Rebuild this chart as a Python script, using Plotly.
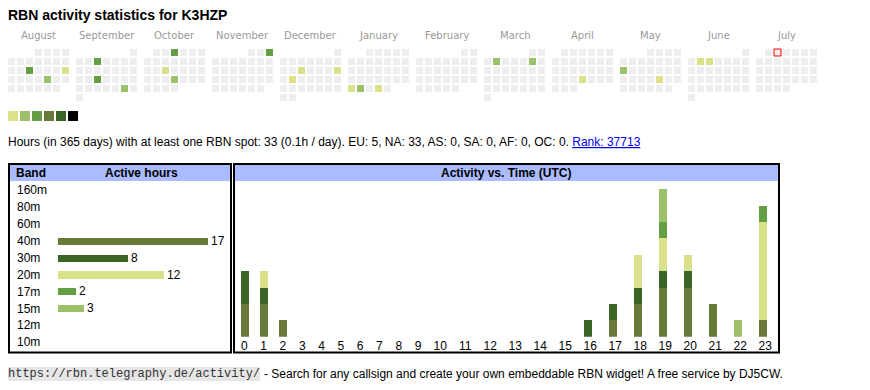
import datetime as dt
import plotly.graph_objects as go

PAGE_W, PAGE_H = 870, 390
OFF = 8                      # default page margin around the plot div
W, H = PAGE_W - OFF, PAGE_H - OFF

# ---------------- data ----------------
callsign = "K3HZP"
month_names = ["August", "September", "October", "November", "December", "January",
               "February", "March", "April", "May", "June", "July"]
first_month = (2024, 8)
today = "2025-07-02"

active_dates = ["2024-08-14", "2024-08-18", "2024-08-23",
                "2024-09-04", "2024-09-18", "2024-09-28",
                "2024-10-03", "2024-10-16", "2024-10-24",
                "2024-11-03",
                "2024-12-11", "2024-12-15", "2024-12-17",
                "2025-01-27", "2025-01-28", "2025-01-30",
                "2025-03-04", "2025-03-08",
                "2025-04-24",
                "2025-05-12", "2025-05-23",
                "2025-06-03", "2025-06-04"]
active_levels = [3, 1, 2,
                 3, 3, 2,
                 3, 1, 2,
                 3,
                 1, 1, 1,
                 1, 2, 1,
                 2, 2,
                 1,
                 2, 1,
                 1, 1]

palette = ["#dbe18a", "#9dc16b", "#659f45", "#677a3a", "#3b6526", "#000000"]
empty_color = "#eeeeee"

bands = ["160m", "80m", "60m", "40m", "30m", "20m", "17m", "15m", "12m", "10m"]
band_hours = [0, 0, 0, 17, 8, 12, 2, 3, 0, 0]
band_colors = ["#000000", "#000000", "#000000", palette[3], palette[4], palette[0],
               palette[2], palette[1], "#000000", "#000000"]

hours = list(range(24))
#            0  1  2  3  4  5  6  7  8  9 10 11 12 13 14 15 16 17 18 19 20 21 22 23
h_40m = [2, 2, 1, 0, 0, 0, 0, 0, 0, 0, 0, 0, 0, 0, 0, 0, 0, 1, 2, 3, 3, 2, 0, 1]
h_30m = [2, 1, 0, 0, 0, 0, 0, 0, 0, 0, 0, 0, 0, 0, 0, 0, 1, 1, 1, 1, 1, 0, 0, 0]
h_20m = [0, 1, 0, 0, 0, 0, 0, 0, 0, 0, 0, 0, 0, 0, 0, 0, 0, 0, 2, 2, 1, 0, 0, 6]
h_17m = [0, 0, 0, 0, 0, 0, 0, 0, 0, 0, 0, 0, 0, 0, 0, 0, 0, 0, 0, 1, 0, 0, 0, 1]
h_15m = [0, 0, 0, 0, 0, 0, 0, 0, 0, 0, 0, 0, 0, 0, 0, 0, 0, 0, 0, 2, 0, 0, 1, 0]
hour_series = [("40m", h_40m, palette[3]), ("30m", h_30m, palette[4]),
               ("20m", h_20m, palette[0]), ("17m", h_17m, palette[2]),
               ("15m", h_15m, palette[1])]

total_hours = 33
per_day = "0.1h"
continents = [("EU", 5), ("NA", 33), ("AS", 0), ("SA", 0), ("AF", 0), ("OC", 0)]
rank = 37713

FONT = "Liberation Sans, Arial, sans-serif"


def px(x):
    """page x pixel -> paper fraction"""
    return (x - OFF) / W


def py(y):
    """page y pixel -> paper fraction"""
    return 1 - (y - OFF) / H


fig = go.Figure()

# ---------------- calendar ----------------
CAL_X0, CAL_Y0, CELL, MONTH_PITCH = 8, 49, 9, 68
level_of = dict(zip(active_dates, active_levels))
cx, cy, cc = [], [], []
today_x = today_y = None
for m in range(12):
    y0 = first_month[0] + (first_month[1] - 1 + m) // 12
    mo = (first_month[1] - 1 + m) % 12 + 1
    first = dt.date(y0, mo, 1)
    nxt = dt.date(y0 + (mo // 12), mo % 12 + 1, 1)
    ndays = (nxt - first).days
    for d in range(1, ndays + 1):
        day = dt.date(y0, mo, d)
        col = day.weekday()
        row = (d - 1 + first.weekday()) // 7
        x = CAL_X0 + 3.5 + m * MONTH_PITCH + col * CELL
        y = CAL_Y0 + 3.5 + row * CELL
        key = day.isoformat()
        cx.append(x)
        cy.append(y)
        lv = level_of.get(key)
        cc.append(palette[lv - 1] if lv else empty_color)
        if key == today:
            today_x, today_y = x, y
    fig.add_annotation(x=CAL_X0 + m * MONTH_PITCH + 30.5, y=35.5, xref="x", yref="y",
                       text=month_names[m], showarrow=False,
                       font=dict(family="DejaVu Sans, Verdana", size=10, color="#999999"),
                       xanchor="center", yanchor="middle")

fig.add_trace(go.Scatter(x=cx, y=cy, mode="markers", hoverinfo="skip",
                         marker=dict(symbol="square", size=7, color=cc, line=dict(width=0)),
                         xaxis="x", yaxis="y", showlegend=False))
fig.add_trace(go.Scatter(x=[today_x], y=[today_y], mode="markers", hoverinfo="skip",
                         marker=dict(symbol="square", size=7, color=empty_color,
                                     line=dict(width=1, color="#ff0000")),
                         xaxis="x", yaxis="y", showlegend=False))
# level legend squares
fig.add_trace(go.Scatter(x=[13 + 12 * i for i in range(len(palette))], y=[116] * len(palette),
                         mode="markers", hoverinfo="skip",
                         marker=dict(symbol="square", size=10, color=palette, line=dict(width=0)),
                         xaxis="x", yaxis="y", showlegend=False))

# ---------------- band table ----------------
BAND_PX_PER_H = 8.8
X2_LEFT, X2_ZERO, X2_RIGHT = 14, 58, 230
fig.add_trace(go.Bar(y=bands, x=band_hours, orientation="h",
                     marker=dict(color=band_colors, line=dict(width=0)),
                     width=0.42,
                     text=[str(v) if v else "" for v in band_hours],
                     textposition="outside", cliponaxis=False, constraintext="none",
                     textfont=dict(family=FONT, size=12, color="#000000"),
                     hoverinfo="skip", xaxis="x2", yaxis="y2", showlegend=False))

# ---------------- hourly chart ----------------
X3_LEFT, X3_RIGHT = 234, 778
col_w = [13.6 + 5.7 * len(str(h)) for h in hours]
lefts = []
acc = 0.7
for w in col_w:
    lefts.append(acc)
    acc += w
bar_x = [l + 10 for l in lefts]
tick_x = [l + w / 2 for l, w in zip(lefts, col_w)]
for name, vals, color in hour_series:
    fig.add_trace(go.Bar(x=bar_x, y=vals, width=8, name=name,
                         marker=dict(color=color, line=dict(width=0)),
                         hoverinfo="skip", xaxis="x3", yaxis="y3", showlegend=False))

UNIT = 16.4
Y3_BOTTOM, Y3_TOP = 336.7, 181

fig.update_layout(
    width=W, height=H, margin=dict(l=0, r=0, t=0, b=0),
    paper_bgcolor="white", plot_bgcolor="rgba(0,0,0,0)",
    barmode="stack", bargap=0,
    font=dict(family=FONT, size=12, color="#000000"),
    xaxis=dict(domain=[0, 1], range=[OFF, PAGE_W], visible=False, fixedrange=True),
    yaxis=dict(domain=[0, 1], range=[PAGE_H, OFF], visible=False, fixedrange=True),
    xaxis2=dict(domain=[px(X2_LEFT), px(X2_RIGHT)],
                range=[-(X2_ZERO - X2_LEFT) / BAND_PX_PER_H, (X2_RIGHT - X2_ZERO) / BAND_PX_PER_H],
                anchor="y2", visible=False, fixedrange=True),
    yaxis2=dict(domain=[py(350.6), py(181.6)], type="category", categoryorder="array",
                categoryarray=bands, range=[len(bands) - 0.5, -0.5], anchor="x2",
                ticklabelposition="inside", ticks="", showline=False, showgrid=False,
                zeroline=False, tickfont=dict(family=FONT, size=12, color="#000000"),
                fixedrange=True),
    xaxis3=dict(domain=[px(X3_LEFT), px(X3_RIGHT)], range=[0, X3_RIGHT - X3_LEFT],
                anchor="y3", tickmode="array", tickvals=tick_x, ticktext=[str(h) for h in hours],
                ticks="", showline=False, showgrid=False, zeroline=False,
                tickfont=dict(family=FONT, size=12, color="#000000"), fixedrange=True),
    yaxis3=dict(domain=[py(Y3_BOTTOM), py(Y3_TOP)], range=[0, (Y3_BOTTOM - Y3_TOP) / UNIT],
                anchor="x3", visible=False, fixedrange=True),
)

# ---------------- boxes & headers ----------------
HEADER_COLOR = "#aabbff"
for (x0, x1) in [(9, 231), (234, 778)]:
    fig.add_shape(type="rect", xref="paper", yref="paper", x0=px(x0), x1=px(x1),
                  y0=py(181), y1=py(164), fillcolor=HEADER_COLOR, line=dict(width=0),
                  layer="below")
for (x0, x1) in [(9, 231), (234, 779)]:
    fig.add_shape(type="rect", xref="paper", yref="paper", x0=px(x0), x1=px(x1),
                  y0=py(352.5), y1=py(164), line=dict(width=2, color="#000000"),
                  fillcolor="rgba(0,0,0,0)", layer="above")


def label(x, y, text, size=12, bold=False, anchor="left", color="#000000", family=FONT,
          borderpad=0, **kw):
    fig.add_annotation(x=px(x), y=py(y), xref="paper", yref="paper", showarrow=False,
                       text=f"<b>{text}</b>" if bold else text, xanchor=anchor, yanchor="middle",
                       font=dict(family=family, size=size, color=color),
                       borderwidth=0, borderpad=borderpad, **kw)


label(16, 173, "Band", bold=True)
label(141.7, 173, "Active hours", bold=True, anchor="center")
label(506, 173, "Activity vs. Time (UTC)", bold=True, anchor="center")

label(8, 15.5, f"RBN activity statistics for {callsign}", size=14, bold=True, anchor="left")

cont_text = ", ".join(f"{k}: {v}" for k, v in continents)
info = (f"Hours (in 365 days) with at least one RBN spot: {total_hours} ({per_day} / day). "
        f"{cont_text}. <a href='https://rbn.telegraphy.de/activity/'>"
        f"<span style='color:#0000ee;text-decoration:underline'>Rank: {rank}</span></a>")
label(8, 142, info, size=12)

label(8, 374, "https://rbn.telegraphy.de/activity/", size=12,
      family="Liberation Mono, Courier New, monospace",
      color="#333333", bgcolor="#e6e6e6", borderpad=0)
label(264, 374, "- Search for any callsign and create your own embeddable RBN widget! A free service by DJ5CW.",
      size=12)

fig.write_html("out.html")
